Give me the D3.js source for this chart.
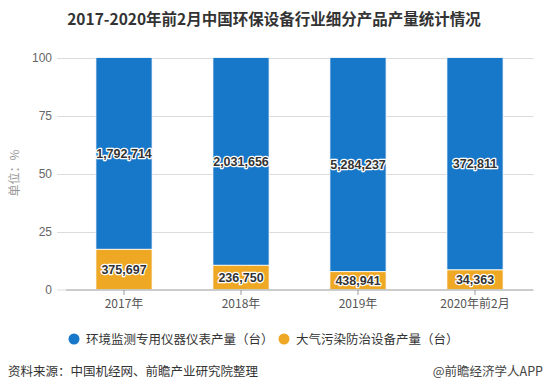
<!DOCTYPE html>
<html><head><meta charset="utf-8">
<script src="https://cdn.jsdelivr.net/npm/d3@7/dist/d3.min.js"></script>
<style>
body{margin:0;background:#fff;}
svg{display:block;font-family:"Microsoft YaHei","Noto Sans CJK SC",Arial,sans-serif;}
</style></head>
<body><svg id="c" width="548" height="391"></svg>
<script>
const categories = ["2017年","2018年","2019年","2020年前2月"];
const monitorValues = [1792714, 2031656, 5284237, 372811];
const airValues = [375697, 236750, 438941, 34363];
const seriesNames = ["环境监测专用仪器仪表产量（台）","大气污染防治设备产量（台）"];
const yTicks = [0,25,50,75,100];
const colors = ["#1777c8","#efa824"];

const svg = d3.select("#c");
const x = d3.scaleBand().domain(categories).range([65.5,533.5]).paddingInner(0.52).paddingOuter(0.26);
const y = d3.scaleLinear().domain([0,100]).range([289.5,57.5]);

// title
svg.append("text").attr("x",274).attr("y",25).attr("text-anchor","middle")
  .attr("font-size",15.5).attr("font-weight","bold").attr("fill","#333")
  .text("2017-2020年前2月中国环保设备行业细分产品产量统计情况");

// grid
svg.append("g").selectAll("line").data(yTicks.filter(d=>d>0)).join("line")
  .attr("x1",57).attr("x2",533.5).attr("y1",d=>Math.round(y(d))+0.5).attr("y2",d=>Math.round(y(d))+0.5)
  .attr("stroke","#dcdcdc").attr("stroke-width",1);
svg.append("line").attr("x1",57).attr("x2",66).attr("y1",290).attr("y2",290).attr("stroke","#dcdcdc");

// y labels
svg.append("g").selectAll("text").data(yTicks).join("text")
  .attr("x",52).attr("y",d=>y(d)+4).attr("text-anchor","end")
  .attr("font-size",12).attr("fill","#666").attr("font-family","Arial,'Liberation Sans',sans-serif").text(d=>d);

svg.append("text").attr("transform","translate(19,173) rotate(-90)").attr("text-anchor","middle")
  .attr("font-size",12).attr("fill","#999").text("单位：%");

const data = categories.map((c,i)=>{
  const t = monitorValues[i]+airValues[i];
  return {c, a: airValues[i], m: monitorValues[i], pa: airValues[i]/t*100};
});

// bars
const g = svg.append("g");
g.selectAll("rect.m").data(data).join("rect")
  .attr("x",d=>x(d.c)).attr("width",x.bandwidth())
  .attr("y",y(100)).attr("height",d=>y(d.pa)-y(100))
  .attr("fill",colors[0]).attr("stroke","#fff").attr("stroke-width",0.8);
g.selectAll("rect.a").data(data).join("rect")
  .attr("x",d=>x(d.c)).attr("width",x.bandwidth())
  .attr("y",d=>y(d.pa)).attr("height",d=>y(0)-y(d.pa))
  .attr("fill",colors[1]).attr("stroke","#fff").attr("stroke-width",0.8);

// x axis
svg.append("line").attr("x1",66).attr("x2",533.5).attr("y1",290).attr("y2",290).attr("stroke","#999");
svg.append("g").selectAll("line").data(categories).join("line")
  .attr("x1",d=>x(d)+x.bandwidth()/2).attr("x2",d=>x(d)+x.bandwidth()/2)
  .attr("y1",290).attr("y2",295).attr("stroke","#999");
svg.append("g").selectAll("text").data(categories).join("text")
  .attr("x",d=>x(d)+x.bandwidth()/2).attr("y",308).attr("text-anchor","middle")
  .attr("font-size",12).attr("fill","#555").text(d=>d);

// labels
const fmt = d3.format(",");
function lab(sel){
  sel.attr("text-anchor","middle").attr("font-size",12.5).attr("font-weight","bold")
   .attr("font-family","Arial,'Liberation Sans',sans-serif")
   .attr("fill","#333").attr("stroke","#fff").attr("stroke-width",2.5)
   .attr("paint-order","stroke").attr("stroke-linejoin","round");
}
svg.append("g").selectAll("text").data(data).join("text")
  .attr("x",d=>x(d.c)+x.bandwidth()/2).attr("y",d=>(y(100)+y(d.pa))/2+4.5)
  .text(d=>fmt(d.m)).call(lab);
svg.append("g").selectAll("text").data(data).join("text")
  .attr("x",d=>x(d.c)+x.bandwidth()/2).attr("y",d=>(y(0)+y(d.pa))/2+4.5)
  .text(d=>fmt(d.a)).call(lab);

// legend
const leg = [{x:74,t:seriesNames[0],c:colors[0]},{x:284,t:seriesNames[1],c:colors[1]}];
const lg = svg.append("g").selectAll("g").data(leg).join("g");
lg.append("circle").attr("cx",d=>d.x).attr("cy",339).attr("r",5.5).attr("fill",d=>d.c);
lg.append("text").attr("x",d=>d.x+12).attr("y",343.5).attr("font-size",12.5).attr("fill","#333").text(d=>d.t);

// footer
svg.append("text").attr("x",8).attr("y",376).attr("font-size",12.5).attr("fill","#333").text("资料来源：中国机经网、前瞻产业研究院整理");
svg.append("text").attr("x",543).attr("y",376).attr("text-anchor","end").attr("font-size",12.5).attr("fill","#444").text("@前瞻经济学人APP");
</script></body></html>
